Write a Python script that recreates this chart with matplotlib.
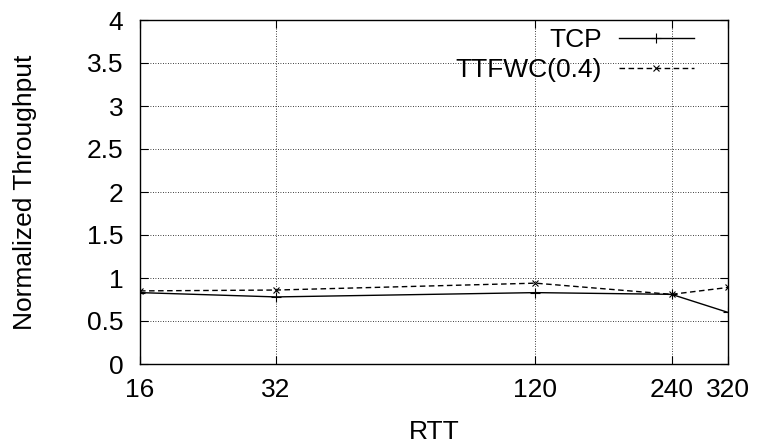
import matplotlib
matplotlib.use("Agg")
import matplotlib.pyplot as plt
from matplotlib.ticker import FixedLocator, NullLocator

plt.rcParams['font.family'] = ['Liberation Sans', 'DejaVu Sans']

# RTT values and normalized throughput per scheme
rtt = [16, 32, 120, 240, 320]
tcp = [0.83, 0.78, 0.83, 0.81, 0.60]
ttfwc = [0.85, 0.86, 0.94, 0.81, 0.89]
yticks = [0, 0.5, 1, 1.5, 2, 2.5, 3, 3.5, 4]
ytick_labels = ['0', '0.5', '1', '1.5', '2', '2.5', '3', '3.5', '4']

W, H = 758, 448
L, R, T, B = 140, 728, 20, 364
FS = 19

fig = plt.figure(figsize=(W / 100, H / 100), dpi=100)
ax = fig.add_axes([L / W, 1 - B / H, (R - L) / W, (B - T) / H])

ax.plot(rtt, tcp, color='black', lw=1.0, marker='+', ms=7, mew=0.8, label='TCP')
ax.plot(rtt, ttfwc, color='black', lw=1.0, ls=(0, (4, 2.5)), marker='x', ms=5, mew=0.8,
        label='TTFWC(0.4)')

ax.set_xscale('log')
ax.set_xlim(16, 320)
ax.set_ylim(0, 4)
ax.xaxis.set_major_locator(FixedLocator(rtt))
ax.xaxis.set_minor_locator(NullLocator())
ax.set_xticklabels([str(v) for v in rtt])
ax.set_yticks(yticks)
ax.set_yticklabels(ytick_labels)

ax.grid(True, color='black', ls=(0, (1, 2)), lw=0.6)
ax.tick_params(direction='in', top=True, right=True, length=6, width=0.8,
               labelsize=FS)
ax.tick_params(axis='x', pad=10)
ax.tick_params(axis='y', pad=12)
for s in ax.spines.values():
    s.set_linewidth(1.0)

fig.text((L + R) / 2 / W, 1 - 432 / H, 'RTT', fontsize=FS, ha='center', va='center')
fig.text(25 / W, 1 - (T + B) / 2 / H, 'Normalized Throughput', fontsize=FS,
         rotation=90, ha='center', va='center')

ax.legend(loc='upper right', frameon=False, markerfirst=False, fontsize=FS,
          handlelength=2.85, handletextpad=0.65, labelspacing=0.22,
          borderpad=0, borderaxespad=0,
          bbox_to_anchor=((694 - L) / (R - L), (B - 28) / (B - T)))

fig.savefig('out.png', dpi=100)
